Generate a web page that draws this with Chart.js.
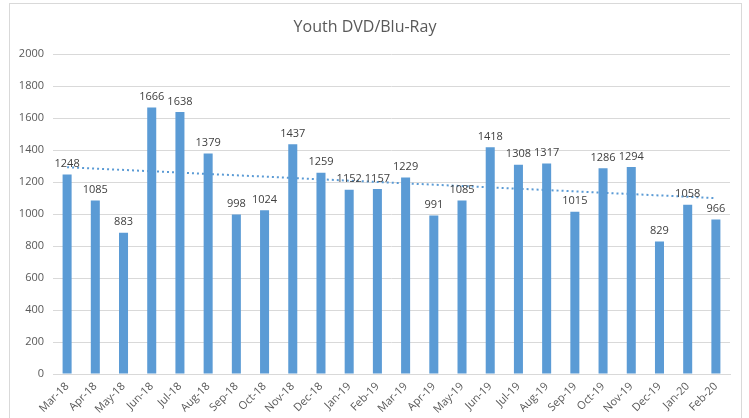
<!DOCTYPE html>
<html>
<head>
<meta charset="utf-8">
<script src="https://cdn.jsdelivr.net/npm/chart.js@4/dist/chart.umd.min.js"></script>
<style>
  html, body { margin: 0; padding: 0; background: #fff; }
  #wrap { position: relative; width: 749px; height: 418px; overflow: hidden; }
  #frame { position: absolute; left: 9px; top: 3px; width: 733px; height: 430px;
           border: 1px solid #d9d9d9; box-sizing: border-box; }
  canvas { position: absolute; left: 0; top: 0; }
</style>
</head>
<body>
<div id="wrap">
  <div id="frame"></div>
  <canvas id="chart" width="749" height="418"></canvas>
</div>
<script>
// Months on the x axis
const months = ['Mar-18', 'Apr-18', 'May-18', 'Jun-18', 'Jul-18', 'Aug-18', 'Sep-18', 'Oct-18',
    'Nov-18', 'Dec-18', 'Jan-19', 'Feb-19', 'Mar-19', 'Apr-19', 'May-19', 'Jun-19',
    'Jul-19', 'Aug-19', 'Sep-19', 'Oct-19', 'Nov-19', 'Dec-19', 'Jan-20', 'Feb-20'];

// Monthly circulation values
const circulation = [1248, 1085, 883, 1666, 1638, 1379, 998, 1024,
    1437, 1259, 1152, 1157, 1229, 991, 1085, 1418,
    1308, 1317, 1015, 1286, 1294, 829, 1058, 966];

// Trendline end points (middle left empty, line spans the gap)
const trendline = [1293, null, null, null, null, null, null, null,
    null, null, null, null, null, null, null, null,
    null, null, null, null, null, null, null, 1100];

const yTicks = { min: 0, max: 2000, step: 200 };

const barColor = '#5B9BD5';
const fontFamily = "'Open Sans', 'Noto Sans', sans-serif";

// Plugin to write values above the bars
const barLabels = {
    id: 'barLabels',
    afterDatasetsDraw(chart) {
        const ctx = chart.ctx;
        const meta = chart.getDatasetMeta(0);
        ctx.save();
        ctx.font = '11px ' + fontFamily;
        ctx.fillStyle = '#404040';
        ctx.textAlign = 'center';
        ctx.textBaseline = 'bottom';
        meta.data.forEach((bar, i) => {
            ctx.fillText(circulation[i], bar.x, bar.y - 5);
        });
        ctx.restore();
    }
};

const ctx = document.getElementById('chart').getContext('2d');
new Chart(ctx, {
    type: 'bar',
    data: {
        labels: months,
        datasets: [
            {
                label: 'Youth DVD/Blu-Ray',
                data: circulation,
                backgroundColor: barColor,
                barPercentage: 0.32,
                categoryPercentage: 1.0,
                order: 2
            },
            {
                type: 'line',
                label: 'Trend',
                data: trendline,
                borderColor: barColor,
                borderWidth: 2,
                borderDash: [2, 3],
                pointRadius: 0,
                spanGaps: true,
                fill: false,
                order: 1
            }
        ]
    },
    options: {
        responsive: false,
        animation: false,
        layout: { padding: { left: 0, right: 19, top: 0, bottom: 0 } },
        plugins: {
            legend: { display: false },
            tooltip: { enabled: false },
            title: {
                display: true,
                text: 'Youth DVD/Blu-Ray',
                color: '#595959',
                font: { family: fontFamily, size: 16, weight: 'normal' },
                padding: { top: 18, bottom: 17 }
            }
        },
        scales: {
            x: {
                grid: { display: false, drawTicks: false },
                border: { color: '#d9d9d9', width: 1 },
                ticks: {
                    color: '#595959',
                    font: { family: fontFamily, size: 11 },
                    minRotation: 45,
                    maxRotation: 45,
                    autoSkip: false,
                    padding: 6
                },
                afterFit(scale) { scale.height = 44; }
            },
            y: {
                min: yTicks.min,
                max: yTicks.max,
                grid: { color: '#d9d9d9', drawTicks: false },
                border: { display: false },
                ticks: {
                    stepSize: yTicks.step,
                    color: '#595959',
                    font: { family: fontFamily, size: 11 },
                    padding: 9,
                    callback: value => String(value)
                },
                afterFit(scale) { scale.width = 53; }
            }
        }
    },
    plugins: [barLabels]
});
</script>
</body>
</html>
